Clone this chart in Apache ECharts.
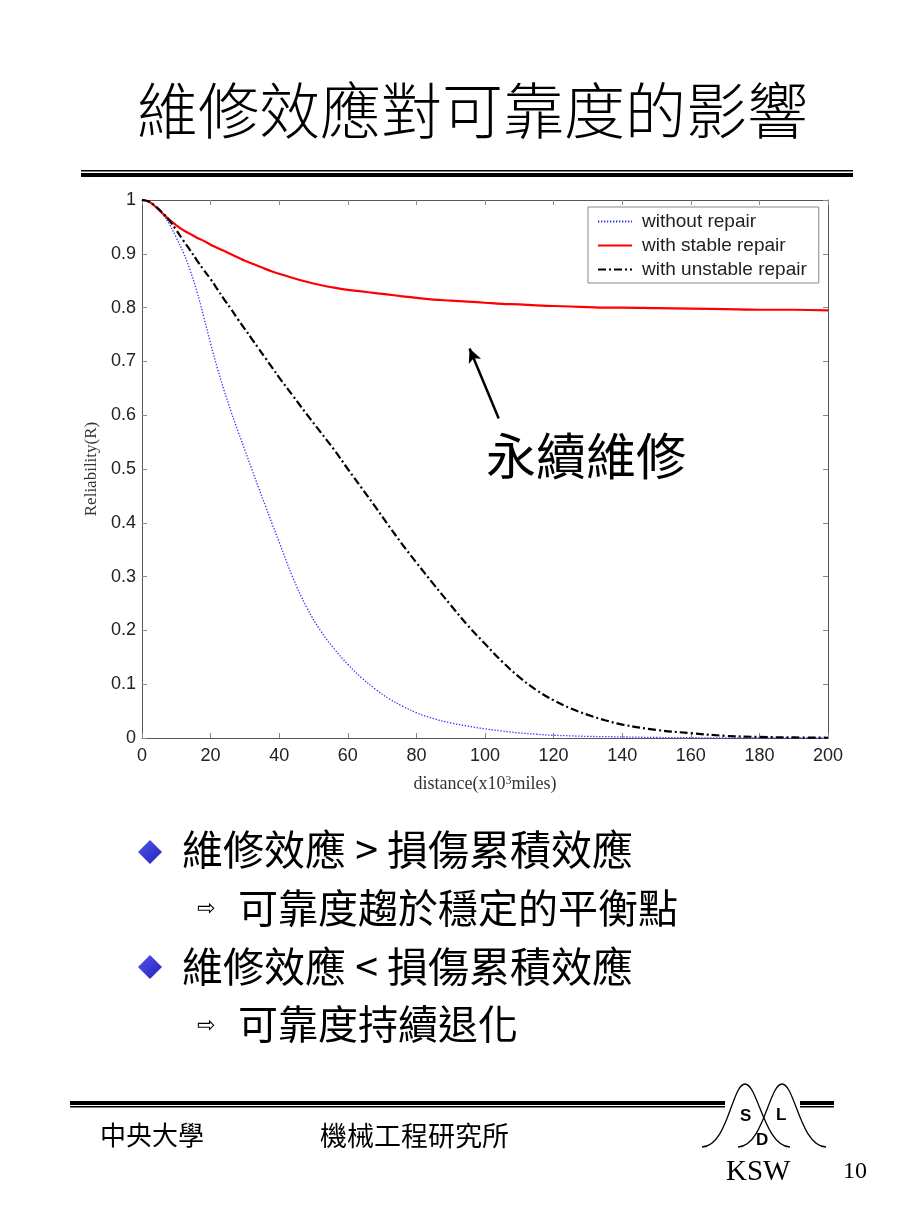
<!DOCTYPE html>
<html>
<head>
<meta charset="utf-8">
<script src="https://cdn.jsdelivr.net/npm/echarts@6/dist/echarts.min.js"></script>
<style>
html,body{margin:0;padding:0;background:#fff;}
#c{width:920px;height:1227px;}
</style>
</head>
<body>
<div id="c"></div>
<script>
// ---- data ----
const distance = [0,2,4,6,8,10,12,14,16,18,20,22,24,26,28,30,32,34,36,38,40,44,48,52,56,60,64,68,72,76,80,85,90,95,100,105,110,115,120,125,130,135,140,150,160,170,180,190,200];
const withoutRepair = [1,0.997,0.988,0.974,0.955,0.93,0.903,0.870,0.830,0.783,0.733,0.687,0.645,0.606,0.570,0.535,0.500,0.465,0.431,0.397,0.364,0.298,0.243,0.200,0.166,0.137,0.112,0.091,0.073,0.059,0.047,0.036,0.028,0.022,0.017,0.013,0.0095,0.007,0.005,0.004,0.003,0.0025,0.002,0.001,0.0005,0.0002,0,0,0];
const stableRepair = [1,0.997,0.987,0.975,0.963,0.953,0.944,0.937,0.93,0.924,0.917,0.911,0.905,0.899,0.893,0.887,0.882,0.877,0.872,0.867,0.863,0.855,0.848,0.842,0.837,0.833,0.83,0.827,0.824,0.821,0.818,0.815,0.813,0.811,0.809,0.807,0.806,0.804,0.803,0.802,0.801,0.8,0.8,0.799,0.798,0.797,0.796,0.796,0.795];
const unstableRepair = [1,0.997,0.988,0.976,0.962,0.944,0.925,0.907,0.888,0.87,0.853,0.834,0.815,0.797,0.778,0.76,0.742,0.724,0.706,0.688,0.670,0.636,0.602,0.569,0.536,0.50,0.465,0.430,0.394,0.359,0.326,0.286,0.247,0.209,0.175,0.142,0.113,0.089,0.07,0.055,0.043,0.033,0.025,0.015,0.009,0.004,0.002,0.001,0.0005];
const seriesNames = ['without repair','with stable repair','with unstable repair'];
const xMin = 0, xMax = 200, xStep = 20;
const yMin = 0, yMax = 1, yStep = 0.1;
const arrowFrom = [104, 0.594];
const arrowTo = [95.5, 0.724];

const pair = (xs, ys) => xs.map((x, i) => [x, ys[i]]);

const chart = echarts.init(document.getElementById('c'), null, {renderer: 'canvas'});
const latin = '"Liberation Sans", Arial, sans-serif';
const serif = '"Liberation Serif", "Times New Roman", serif';
const cjk = '"Noto Sans CJK TC", "Noto Sans CJK SC", sans-serif';

const axisCommon = {
  axisLine: {show: true, onZero: false, lineStyle: {color: '#555', width: 1}},
  axisTick: {show: true, inside: true, length: 5, lineStyle: {color: '#888'}},
  splitLine: {show: false}
};

const option = {
  backgroundColor: '#fff',
  animation: false,
  grid: {left: 142, top: 200, width: 686, height: 538, containLabel: false},
  legend: {
    left: 588, top: 207, orient: 'vertical',
    padding: [5, 12, 4, 9], itemGap: 5, itemWidth: 34, itemHeight: 14,
    backgroundColor: '#fff', borderColor: '#888', borderWidth: 1,
    itemStyle: {opacity: 0},
    textStyle: {fontFamily: latin, fontSize: 19, color: '#222', lineHeight: 18, padding: [0, 0, 0, 5]},
    data: seriesNames
  },
  xAxis: [
    Object.assign({}, axisCommon, {
      type: 'value', min: xMin, max: xMax, interval: xStep, position: 'bottom',
      axisLabel: {fontFamily: latin, fontSize: 18, color: '#222', margin: 9},
      name: 'distance(x10{sup|3}miles)', nameLocation: 'middle', nameGap: 37,
      nameTextStyle: {fontFamily: serif, fontSize: 18, color: '#333', lineHeight: 18,
        rich: {sup: {fontFamily: serif, fontSize: 12, color: '#333', verticalAlign: 'top', lineHeight: 10}}}
    }),
    Object.assign({}, axisCommon, {
      type: 'value', min: xMin, max: xMax, interval: xStep, position: 'top',
      axisLabel: {show: false}
    })
  ],
  yAxis: [
    Object.assign({}, axisCommon, {
      type: 'value', min: yMin, max: yMax, interval: yStep, position: 'left',
      axisLabel: {fontFamily: latin, fontSize: 18, color: '#222', margin: 6,
        formatter: v => String(+v.toFixed(1))},
      name: 'Reliability(R)', nameLocation: 'middle', nameGap: 25, nameRotate: 90,
      nameTextStyle: {fontFamily: serif, fontSize: 17, color: '#333'}
    }),
    Object.assign({}, axisCommon, {
      type: 'value', min: yMin, max: yMax, interval: yStep, position: 'right',
      axisLabel: {show: false}
    })
  ],
  series: [
    {
      name: seriesNames[0], type: 'line', xAxisIndex: 0, yAxisIndex: 0,
      data: pair(distance, withoutRepair), symbol: 'none', smooth: 0.4,
      lineStyle: {color: '#2b2bff', width: 1.3, type: [1.3, 1.7]}, itemStyle: {color: '#2b2bff'}, z: 3
    },
    {
      name: seriesNames[1], type: 'line', xAxisIndex: 0, yAxisIndex: 0,
      data: pair(distance, stableRepair), symbol: 'none', smooth: 0.4,
      lineStyle: {color: '#ff0000', width: 2.2, type: 'solid'}, itemStyle: {color: '#ff0000'}, z: 4,
      markLine: {
        silent: true, symbol: ['none', 'arrow'], symbolSize: [10, 14],
        label: {show: false},
        lineStyle: {color: '#000', width: 2.5, type: 'solid'},
        data: [[{coord: arrowFrom}, {coord: arrowTo}]]
      }
    },
    {
      name: seriesNames[2], type: 'line', xAxisIndex: 0, yAxisIndex: 0,
      data: pair(distance, unstableRepair), symbol: 'none', smooth: 0.4,
      lineStyle: {color: '#000', width: 2.2, type: [8, 3, 2, 3]}, itemStyle: {color: '#000'}, z: 5
    }
  ],
  graphic: [
    // title
    {type: 'text', x: 137, y: 80, style: {text: '維修效應對可靠度的影響', font: '300 61px ' + cjk, fill: '#000'}},
    // title rules
    {type: 'rect', shape: {x: 81, y: 170, width: 772, height: 1.5}, style: {fill: '#000'}},
    {type: 'rect', shape: {x: 81, y: 173, width: 772, height: 4}, style: {fill: '#000'}},
    // annotation text
    {type: 'text', x: 486, y: 431, style: {text: '永續維修', font: '50px ' + cjk, fill: '#000'}},
    // bullets
    {type: 'polygon', shape: {points: [[150, 840], [162, 852], [150, 864], [138, 852]]},
      style: {fill: new echarts.graphic.LinearGradient(0, 0, 1, 1, [{offset: 0, color: '#5555ee'}, {offset: 1, color: '#2222bb'}])}},
    {type: 'polygon', shape: {points: [[150, 955], [162, 967], [150, 979], [138, 967]]},
      style: {fill: new echarts.graphic.LinearGradient(0, 0, 1, 1, [{offset: 0, color: '#5555ee'}, {offset: 1, color: '#2222bb'}])}},
    {type: 'text', x: 182, y: 829, style: {text: '維修效應 > 損傷累積效應', font: '41px ' + cjk, fill: '#000'}},
    {type: 'text', x: 197, y: 898, style: {text: '⇨', font: '22px "DejaVu Sans"', fill: '#000'}},
    {type: 'text', x: 238, y: 888, style: {text: '可靠度趨於穩定的平衡點', font: '40px ' + cjk, fill: '#000'}},
    {type: 'text', x: 182, y: 946, style: {text: '維修效應 < 損傷累積效應', font: '41px ' + cjk, fill: '#000'}},
    {type: 'text', x: 197, y: 1015, style: {text: '⇨', font: '22px "DejaVu Sans"', fill: '#000'}},
    {type: 'text', x: 238, y: 1004, style: {text: '可靠度持續退化', font: '40px ' + cjk, fill: '#000'}},
    // footer rules
    {type: 'rect', shape: {x: 70, y: 1101, width: 655, height: 4}, style: {fill: '#000'}},
    {type: 'rect', shape: {x: 70, y: 1106, width: 655, height: 1.5}, style: {fill: '#000'}},
    {type: 'rect', shape: {x: 800, y: 1101, width: 34, height: 4}, style: {fill: '#000'}},
    {type: 'rect', shape: {x: 800, y: 1106, width: 34, height: 1.5}, style: {fill: '#000'}},
    // footer texts
    {type: 'text', x: 100, y: 1122, style: {text: '中央大學', font: '26px ' + cjk, fill: '#000'}},
    {type: 'text', x: 320, y: 1122, style: {text: '機械工程研究所', font: '27px ' + cjk, fill: '#000'}},
    {type: 'text', x: 726, y: 1158, style: {text: 'KSW', font: '29px ' + serif, fill: '#000'}},
    {type: 'text', x: 843, y: 1160, style: {text: '10', font: '24px ' + serif, fill: '#000'}},
    // logo bells
    {type: 'bezierCurve', shape: {x1: 702, y1: 1147, x2: 745, y2: 1084, cpx1: 728, cpy1: 1146, cpx2: 732, cpy2: 1084}, style: {stroke: '#000', lineWidth: 1.3, fill: null}},
    {type: 'bezierCurve', shape: {x1: 745, y1: 1084, x2: 790, y2: 1147, cpx1: 758, cpy1: 1084, cpx2: 764, cpy2: 1146}, style: {stroke: '#000', lineWidth: 1.3, fill: null}},
    {type: 'bezierCurve', shape: {x1: 738, y1: 1147, x2: 782, y2: 1084, cpx1: 764, cpy1: 1146, cpx2: 769, cpy2: 1084}, style: {stroke: '#000', lineWidth: 1.3, fill: null}},
    {type: 'bezierCurve', shape: {x1: 782, y1: 1084, x2: 826, y2: 1147, cpx1: 795, cpy1: 1084, cpx2: 800, cpy2: 1146}, style: {stroke: '#000', lineWidth: 1.3, fill: null}},
    {type: 'text', x: 740, y: 1108, style: {text: 'S', font: 'bold 17px ' + latin, fill: '#000'}},
    {type: 'text', x: 776, y: 1107, style: {text: 'L', font: 'bold 17px ' + latin, fill: '#000'}},
    {type: 'text', x: 756, y: 1132, style: {text: 'D', font: 'bold 17px ' + latin, fill: '#000'}}
  ]
};
chart.setOption(option);
</script>
</body>
</html>
